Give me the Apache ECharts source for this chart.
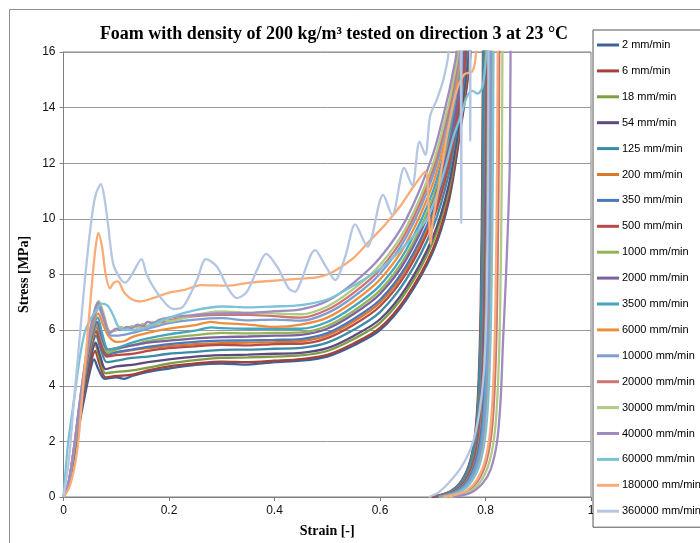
<!DOCTYPE html>
<html>
<head>
<meta charset="utf-8">
<script src="https://cdn.jsdelivr.net/npm/echarts@6/dist/echarts.min.js"></script>
<style>
  html, body { margin: 0; padding: 0; background: #fff; }
  #main { width: 700px; height: 543px; }
</style>
</head>
<body>
<div id="main"></div>
<script type="text/javascript">
// series names (crosshead speed)
var names = ['2 mm/min', '6 mm/min', '18 mm/min', '54 mm/min', '125 mm/min', '200 mm/min', '350 mm/min',
  '500 mm/min', '1000 mm/min', '2000 mm/min', '3500 mm/min', '6000 mm/min', '10000 mm/min', '20000 mm/min',
  '30000 mm/min', '40000 mm/min', '60000 mm/min', '180000 mm/min', '360000 mm/min'];

var colors = ['#3d6299', '#a5403c', '#7e9d45', '#5f4a7e', '#3a8da4', '#d9792c', '#4a78b8',
  '#b94a47', '#93b556', '#7b619e', '#45a5c0', '#ee8f3e', '#7e9dd1', '#cd7572',
  '#b1ca84', '#9e8bc0', '#7dc2d6', '#f9ab78', '#b4c6e2'];

// [strain, stress]; points above 16 are clipped by the axis
var s2 = [[0,0],[0.01,0.4],[0.02,1.4],[0.03,2.6],[0.04,3.6],[0.05,4.5],[0.058,4.95],[0.066,4.6],[0.078,4.25],[0.1,4.3],[0.115,4.25],[0.13,4.35],[0.16,4.5],[0.2,4.62],[0.25,4.75],[0.3,4.8],[0.35,4.76],[0.4,4.85],[0.45,4.9],[0.5,5.05],[0.55,5.45],[0.6,6.0],[0.65,7.1],[0.7,8.8],[0.73,10.6],[0.751,13.0],[0.772,16],[0.777,20],
  [0.797,20],[0.795,12],[0.792,7],[0.788,4.2],[0.782,2.4],[0.772,1.3],[0.756,0.6],[0.734,0.2],[0.7,0]];
var s6 = [[0,0],[0.01,0.45],[0.02,1.5],[0.03,2.7],[0.04,3.8],[0.05,4.7],[0.06,5.25],[0.068,4.8],[0.08,4.3],[0.1,4.35],[0.13,4.4],[0.16,4.55],[0.2,4.7],[0.25,4.8],[0.3,4.87],[0.35,4.85],[0.4,4.9],[0.45,4.96],[0.5,5.11],[0.55,5.52],[0.6,6.08],[0.65,7.19],[0.7,8.9],[0.73,10.72],[0.7506,13.07],[0.771,16],[0.776,20],
  [0.796,20],[0.794,12],[0.791,7],[0.787,4.2],[0.781,2.4],[0.771,1.3],[0.755,0.6],[0.733,0.2],[0.698,0]];
var s18 = [[0,0],[0.01,0.45],[0.02,1.55],[0.03,2.8],[0.04,3.9],[0.05,4.9],[0.06,5.5],[0.068,5.0],[0.08,4.45],[0.1,4.5],[0.13,4.55],[0.16,4.65],[0.2,4.8],[0.25,4.92],[0.3,5.0],[0.35,5.02],[0.4,5.05],[0.45,5.09],[0.5,5.25],[0.55,5.68],[0.6,6.26],[0.65,7.39],[0.7,9.15],[0.73,10.99],[0.7497,13.22],[0.769,16],[0.774,20],
  [0.798,20],[0.796,12],[0.793,7],[0.789,4.2],[0.783,2.4],[0.773,1.3],[0.757,0.6],[0.735,0.2],[0.702,0]];
var s54 = [[0,0],[0.01,0.5],[0.02,1.55],[0.03,2.8],[0.04,3.95],[0.05,4.9],[0.061,5.55],[0.069,5.1],[0.08,4.6],[0.1,4.7],[0.13,4.75],[0.16,4.85],[0.2,4.95],[0.25,5.05],[0.3,5.1],[0.35,5.12],[0.4,5.15],[0.45,5.18],[0.5,5.35],[0.55,5.79],[0.6,6.39],[0.65,7.54],[0.7,9.33],[0.73,11.19],[0.7495,13.33],[0.768,16],[0.773,20],
  [0.799,20],[0.797,12],[0.794,7],[0.79,4.2],[0.784,2.4],[0.774,1.3],[0.758,0.6],[0.736,0.2],[0.7,0]];
var s125 = [[0,0],[0.01,0.5],[0.02,1.6],[0.03,2.9],[0.04,4.1],[0.05,5.1],[0.062,5.8],[0.07,5.35],[0.082,4.85],[0.1,4.9],[0.13,5.0],[0.16,5.05],[0.2,5.15],[0.25,5.22],[0.3,5.29],[0.35,5.3],[0.4,5.33],[0.45,5.36],[0.5,5.55],[0.55,6.01],[0.6,6.65],[0.65,7.83],[0.7,9.68],[0.73,11.58],[0.7481,13.55],[0.765,16],[0.77,20],
  [0.797,20],[0.795,12],[0.792,7],[0.788,4.2],[0.782,2.4],[0.772,1.3],[0.756,0.6],[0.734,0.2],[0.703,0]];
var s200 = [[0,0],[0.01,0.5],[0.02,1.65],[0.03,3.0],[0.04,4.25],[0.05,5.3],[0.063,6.1],[0.071,5.6],[0.083,5.15],[0.1,5.2],[0.13,5.28],[0.16,5.35],[0.2,5.42],[0.25,5.5],[0.3,5.53],[0.35,5.55],[0.4,5.57],[0.45,5.6],[0.5,5.81],[0.55,6.31],[0.6,6.99],[0.65,8.2],[0.7,10.13],[0.73,12.08],[0.7465,13.84],[0.762,16],[0.767,20],
  [0.801,20],[0.799,12],[0.796,7],[0.792,4.2],[0.786,2.4],[0.776,1.3],[0.76,0.6],[0.738,0.2],[0.705,0]];
var s350 = [[0,0],[0.01,0.5],[0.02,1.65],[0.03,3.0],[0.04,4.3],[0.05,5.35],[0.063,6.2],[0.071,5.65],[0.083,5.1],[0.1,5.2],[0.13,5.3],[0.16,5.4],[0.2,5.5],[0.25,5.58],[0.3,5.62],[0.35,5.63],[0.4,5.65],[0.45,5.68],[0.5,5.89],[0.55,6.4],[0.6,7.09],[0.65,8.32],[0.7,10.27],[0.73,12.24],[0.7459,13.92],[0.761,16],[0.766,20],
  [0.802,20],[0.8,12],[0.797,7],[0.793,4.2],[0.787,2.4],[0.777,1.3],[0.761,0.6],[0.739,0.2],[0.706,0]];
var s500 = [[0,0],[0.01,0.5],[0.02,1.6],[0.03,2.95],[0.04,4.2],[0.05,5.2],[0.062,5.95],[0.07,5.5],[0.082,5.05],[0.1,5.1],[0.13,5.15],[0.16,5.25],[0.2,5.35],[0.25,5.42],[0.3,5.47],[0.35,5.45],[0.4,5.5],[0.45,5.51],[0.5,5.71],[0.55,6.19],[0.6,6.86],[0.65,8.06],[0.7,9.96],[0.73,11.89],[0.7471,13.73],[0.763,16],[0.768,20],
  [0.804,20],[0.802,12],[0.799,7],[0.795,4.2],[0.789,2.4],[0.779,1.3],[0.763,0.6],[0.741,0.2],[0.704,0]];
var s1000 = [[0,0],[0.01,0.5],[0.02,1.65],[0.03,3.0],[0.04,4.3],[0.05,5.35],[0.064,6.2],[0.072,5.7],[0.084,5.2],[0.1,5.3],[0.115,5.4],[0.13,5.45],[0.16,5.6],[0.2,5.72],[0.25,5.82],[0.3,5.9],[0.35,5.88],[0.4,5.9],[0.45,5.92],[0.5,6.15],[0.55,6.69],[0.6,7.43],[0.65,8.7],[0.7,10.73],[0.73,12.75],[0.7443,14.21],[0.757,16],[0.762,20],
  [0.806,20],[0.804,12],[0.801,7],[0.797,4.2],[0.791,2.4],[0.781,1.3],[0.765,0.6],[0.743,0.2],[0.708,0]];
var s2000 = [[0,0],[0.01,0.5],[0.02,1.7],[0.03,3.05],[0.04,4.35],[0.05,5.45],[0.064,6.3],[0.072,5.8],[0.084,5.3],[0.1,5.35],[0.13,5.45],[0.16,5.55],[0.2,5.62],[0.25,5.7],[0.3,5.75],[0.35,5.77],[0.4,5.8],[0.45,5.83],[0.5,6.05],[0.55,6.58],[0.6,7.3],[0.65,8.55],[0.7,10.55],[0.73,12.55],[0.7449,14.1],[0.759,16],[0.764,20],
  [0.807,20],[0.805,12],[0.802,7],[0.798,4.2],[0.792,2.4],[0.782,1.3],[0.766,0.6],[0.744,0.2],[0.707,0]];
var s3500 = [[0,0],[0.01,0.55],[0.02,1.7],[0.03,3.1],[0.04,4.45],[0.05,5.6],[0.065,6.45],[0.073,5.9],[0.085,5.3],[0.1,5.35],[0.13,5.55],[0.16,5.7],[0.2,5.85],[0.25,5.98],[0.28,6.1],[0.3,6.07],[0.35,6.05],[0.4,6.05],[0.45,6.05],[0.5,6.29],[0.55,6.85],[0.6,7.61],[0.65,8.9],[0.7,10.97],[0.73,13.02],[0.7434,14.36],[0.755,16],[0.76,20],
  [0.809,20],[0.807,12],[0.804,7],[0.8,4.2],[0.794,2.4],[0.784,1.3],[0.768,0.6],[0.746,0.2],[0.71,0]];
var s6000 = [[0,0],[0.01,0.55],[0.02,1.75],[0.03,3.15],[0.04,4.5],[0.05,5.7],[0.066,6.6],[0.075,6.2],[0.085,5.8],[0.1,5.58],[0.115,5.6],[0.13,5.75],[0.16,5.9],[0.2,6.05],[0.25,6.18],[0.28,6.3],[0.3,6.25],[0.35,6.2],[0.4,6.12],[0.45,6.2],[0.5,6.45],[0.55,7.03],[0.6,7.82],[0.65,9.13],[0.7,11.25],[0.73,13.33],[0.7421,14.54],[0.753,16],[0.758,20],
  [0.813,20],[0.811,12],[0.808,7],[0.804,4.2],[0.798,2.4],[0.788,1.3],[0.772,0.6],[0.75,0.2],[0.712,0]];
var s10000 = [[0,0],[0.01,0.55],[0.02,1.75],[0.03,3.2],[0.04,4.6],[0.05,5.8],[0.067,6.8],[0.076,6.4],[0.09,5.8],[0.1,5.8],[0.13,5.9],[0.16,6.05],[0.2,6.25],[0.25,6.38],[0.3,6.43],[0.35,6.35],[0.4,6.38],[0.45,6.34],[0.5,6.61],[0.55,7.2],[0.6,8.03],[0.65,9.36],[0.7,11.53],[0.73,13.64],[0.7408,14.72],[0.751,16],[0.756,20],
  [0.811,20],[0.809,12],[0.806,7],[0.802,4.2],[0.796,2.4],[0.786,1.3],[0.77,0.6],[0.748,0.2],[0.715,0]];
var s20000 = [[0,0],[0.01,0.55],[0.02,1.8],[0.03,3.25],[0.04,4.65],[0.05,5.9],[0.067,6.95],[0.076,6.5],[0.088,5.95],[0.1,6.0],[0.11,6.08],[0.12,6.02],[0.13,6.1],[0.16,6.15],[0.2,6.35],[0.25,6.5],[0.3,6.55],[0.35,6.55],[0.4,6.5],[0.45,6.45],[0.5,6.73],[0.55,7.34],[0.6,8.18],[0.65,9.54],[0.7,11.74],[0.73,13.88],[0.7399,14.85],[0.749,16],[0.754,20],
  [0.827,20],[0.825,12],[0.822,7],[0.818,4.2],[0.812,2.4],[0.802,1.3],[0.786,0.6],[0.764,0.2],[0.728,0]];
var s30000 = [[0,0],[0.01,0.55],[0.02,1.8],[0.03,3.3],[0.04,4.7],[0.05,5.95],[0.067,7.05],[0.076,6.6],[0.088,5.95],[0.1,6.0],[0.11,6.12],[0.12,6.02],[0.13,6.15],[0.14,6.08],[0.15,6.22],[0.16,6.15],[0.17,6.3],[0.18,6.22],[0.19,6.38],[0.2,6.32],[0.25,6.55],[0.3,6.67],[0.35,6.62],[0.4,6.6],[0.45,6.57],[0.5,6.85],[0.55,7.48],[0.6,8.34],[0.65,9.71],[0.7,11.95],[0.73,14.11],[0.739,14.98],[0.748,16],[0.753,20],
  [0.833,20],[0.831,12],[0.828,7],[0.824,4.2],[0.818,2.4],[0.808,1.3],[0.792,0.6],[0.77,0.2],[0.732,0]];
var s40000 = [[0,0],[0.01,0.55],[0.02,1.8],[0.03,3.3],[0.04,4.7],[0.05,5.95],[0.066,7.0],[0.075,6.55],[0.088,5.9],[0.1,6.05],[0.11,6.0],[0.12,6.12],[0.13,6.08],[0.14,6.2],[0.15,6.15],[0.16,6.3],[0.17,6.24],[0.18,6.36],[0.2,6.45],[0.25,6.55],[0.3,6.6],[0.35,6.62],[0.4,6.68],[0.45,6.75],[0.5,7.05],[0.55,7.7],[0.6,8.6],[0.65,10.0],[0.7,12.3],[0.73,14.5],[0.7375,15.2],[0.745,16],[0.75,20],
  [0.848,20],[0.846,12],[0.839,8],[0.833,5.5],[0.829,3.6],[0.822,2],[0.81,1.0],[0.795,0.5],[0.772,0.15],[0.739,0]];
var s60000 = [[0,0],[0.005,1.2],[0.009,2.0],[0.02,3.5],[0.03,4.9],[0.04,5.9],[0.05,6.35],[0.062,6.7],[0.073,6.95],[0.085,6.85],[0.095,6.5],[0.105,6.1],[0.12,6.0],[0.15,6.05],[0.2,6.45],[0.25,6.72],[0.3,6.85],[0.35,6.82],[0.4,6.85],[0.45,6.9],[0.5,7.1],[0.55,7.6],[0.6,8.2],[0.65,9.1],[0.69,10.05],[0.72,11.6],[0.74,13.0],[0.755,13.8],[0.765,14.4],[0.775,14.6],[0.785,14.5],[0.795,14.8],[0.803,16.5],[0.806,20],
  [0.816,20],[0.814,12],[0.811,7],[0.807,4.2],[0.801,2.4],[0.791,1.3],[0.775,0.6],[0.753,0.2],[0.718,0]];
var s180000 = [[0,0],[0.01,0.3],[0.02,1.0],[0.028,2.0],[0.035,3.5],[0.045,5.7],[0.055,7.9],[0.061,9.0],[0.066,9.5],[0.073,9.0],[0.08,8.0],[0.088,7.5],[0.095,7.7],[0.103,7.75],[0.115,7.35],[0.13,7.1],[0.145,7.03],[0.17,7.15],[0.2,7.35],[0.23,7.45],[0.26,7.62],[0.31,7.6],[0.35,7.7],[0.4,7.78],[0.45,7.85],[0.48,7.9],[0.5,8.0],[0.52,8.2],[0.55,8.6],[0.58,9.2],[0.61,9.8],[0.64,10.5],[0.665,11.2],[0.686,11.7],[0.692,10.5],[0.696,9.1],[0.7,9.9],[0.71,11.0],[0.72,12.2],[0.73,13.3],[0.745,14.6],[0.76,15.2],[0.775,15.3],[0.782,16],[0.785,20],
  [0.824,20],[0.822,12],[0.819,7],[0.815,4.2],[0.809,2.4],[0.799,1.3],[0.783,0.6],[0.761,0.2],[0.722,0]];
var s360000 = [[0,0],[0.01,1.3],[0.02,3.5],[0.031,5.8],[0.04,7.7],[0.05,9.5],[0.06,10.8],[0.071,11.25],[0.078,10.7],[0.085,9.7],[0.094,8.4],[0.107,7.87],[0.117,7.71],[0.129,7.98],[0.148,8.55],[0.158,7.98],[0.183,7.2],[0.208,6.76],[0.227,6.85],[0.253,7.8],[0.27,8.55],[0.291,8.28],[0.312,7.5],[0.329,7.15],[0.348,7.39],[0.367,8.17],[0.384,8.74],[0.405,8.28],[0.427,7.5],[0.439,7.38],[0.449,7.7],[0.477,8.88],[0.497,8.3],[0.515,7.8],[0.535,8.7],[0.553,9.8],[0.576,9.0],[0.606,10.86],[0.623,10.14],[0.646,11.83],[0.661,11.2],[0.675,12.78],[0.686,12.3],[0.695,13.7],[0.708,14.3],[0.72,15.0],[0.73,16.0],[0.735,20],
  [0.752,20],[0.754,9.85],[0.756,20],[0.769,20],[0.771,12.8],[0.773,20],
  [0.806,20],[0.805,12],[0.802,7],[0.797,4.5],[0.788,3.0],[0.775,1.9],[0.755,1.1],[0.73,0.5],[0.71,0.15],[0.692,0]];

var curves = [s2, s6, s18, s54, s125, s200, s350, s500, s1000, s2000, s3500, s6000,
  s10000, s20000, s30000, s40000, s60000, s180000, s360000];

var yTicks = [0, 2, 4, 6, 8, 10, 12, 14, 16];

var myChart = echarts.init(document.getElementById('main'));
var option = {
    animation: false,
    backgroundColor: '#fff',
    color: colors,
    title: {
        text: 'Foam with density of 200 kg/m³ tested on direction 3 at 23 °C',
        left: 329,
        top: 20,
        textAlign: 'center',
        textStyle: { fontFamily: 'Liberation Serif', fontWeight: 'bold', fontSize: 18, color: '#000' }
    },
    legend: {
        orient: 'vertical',
        left: 593,
        top: 30,
        padding: [8, 8, 9, 4],
        icon: 'rect',
        itemWidth: 22,
        itemHeight: 3,
        itemGap: 11.9,
        borderColor: '#555',
        borderWidth: 1,
        backgroundColor: '#fff',
        selectedMode: false,
        textStyle: { fontFamily: 'Liberation Sans', fontSize: 11, color: '#000', lineHeight: 14, padding: [0, 0, 0, -2] },
        data: names
    },
    grid: {
        left: 63.5,
        right: 109,
        top: 52,
        bottom: 46,
        show: true,
        borderColor: '#7f7f7f',
        borderWidth: 1
    },
    graphic: [{
        type: 'rect',
        shape: { x: 9.5, y: 9.5, width: 1000, height: 1000 },
        style: { fill: 'none', stroke: '#8c8c8c', lineWidth: 1 },
        silent: true
    }],
    xAxis: {
        type: 'value',
        min: 0,
        max: 1,
        interval: 0.2,
        name: 'Strain [-]',
        nameLocation: 'middle',
        nameGap: 27,
        nameTextStyle: { fontFamily: 'Liberation Serif', fontWeight: 'bold', fontSize: 14, color: '#000' },
        axisLine: { lineStyle: { color: '#7f7f7f' } },
        axisTick: { length: 4, lineStyle: { color: '#7f7f7f' } },
        axisLabel: { fontFamily: 'Liberation Sans', fontSize: 12, color: '#111', margin: 8 },
        splitLine: { show: false }
    },
    yAxis: {
        type: 'value',
        min: yTicks[0],
        max: yTicks[yTicks.length - 1],
        interval: 2,
        name: 'Stress [MPa]',
        nameLocation: 'middle',
        nameGap: 31,
        nameTextStyle: { fontFamily: 'Liberation Serif', fontWeight: 'bold', fontSize: 14, color: '#000' },
        axisLine: { show: true, lineStyle: { color: '#7f7f7f' } },
        axisTick: { show: true, length: 4, lineStyle: { color: '#7f7f7f' } },
        axisLabel: { fontFamily: 'Liberation Sans', fontSize: 12, color: '#111', margin: 8 },
        splitLine: { lineStyle: { color: '#9a9a9a', width: 1 } }
    },
    series: curves.map(function (d, i) {
        return {
            name: names[i],
            type: 'line',
            data: d,
            symbol: 'none',
            smooth: 0.3,
            clip: true,
            lineStyle: { width: 2.3, color: colors[i] },
            itemStyle: { color: colors[i] }
        };
    })
};

myChart.setOption(option);
</script>
</body>
</html>
